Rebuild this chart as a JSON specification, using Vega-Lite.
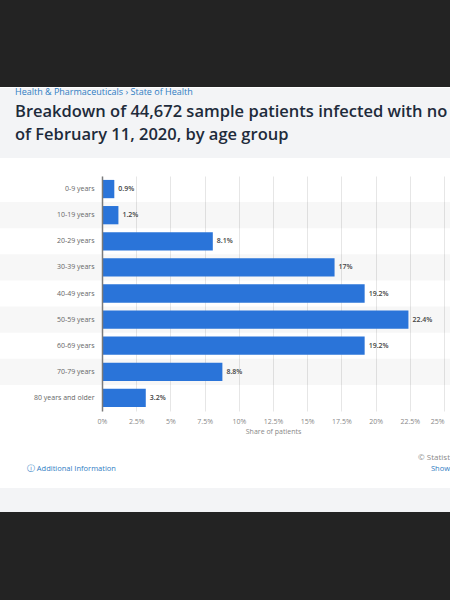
{
  "$schema": "https://vega.github.io/schema/vega-lite/v6.json",
  "background": "white",
  "padding": 0,
  "spacing": 0,
  "bounds": "full",
  "config": {"font": "Open Sans", "view": {"stroke": null}},
  "vconcat": [
    {
      "width": 450, "height": 87,
      "data": {"values": []}, "mark": "rect", "encoding": {},
      "view": {"fill": "#232323"}
    },
    {
      "width": 450, "height": 70,
      "data": {"values": []}, "mark": "rect", "encoding": {},
      "view": {"fill": "#f3f4f6"},
      "title": {
        "text": "Health & Pharmaceuticals › State of Health",
        "subtitle": ["Breakdown of 44,672 sample patients infected with no", "of February 11, 2020, by age group"],
        "anchor": "start", "frame": "group", "dx": 15, "offset": -55,
        "fontSize": 9, "fontWeight": "normal", "color": "#2f7dc3",
        "subtitleFontSize": 16.5, "subtitleFontWeight": 600, "subtitleColor": "#1e2b3b",
        "subtitlePadding": 7, "subtitleLineHeight": 23
      }
    },
    {
      "width": 450, "height": 18,
      "data": {"values": []}, "mark": "rect", "encoding": {}
    },
    {
      "width": 450, "height": 235,
      "data": {
        "values": [
          {"age": "0-9 years", "share": 0.009},
          {"age": "10-19 years", "share": 0.012},
          {"age": "20-29 years", "share": 0.081},
          {"age": "30-39 years", "share": 0.17},
          {"age": "40-49 years", "share": 0.192},
          {"age": "50-59 years", "share": 0.224},
          {"age": "60-69 years", "share": 0.192},
          {"age": "70-79 years", "share": 0.088},
          {"age": "80 years and older", "share": 0.032}
        ]
      },
      "encoding": {
        "y": {
          "field": "age", "type": "nominal", "title": null,
          "scale": {
            "domain": ["0-9 years", "10-19 years", "20-29 years", "30-39 years", "40-49 years", "50-59 years", "60-69 years", "70-79 years", "80 years and older"],
            "paddingInner": 0, "paddingOuter": 0
          },
          "axis": {
            "offset": -102, "labelPadding": 8, "ticks": false, "grid": false,
            "domainColor": "#7a7a7a", "domainWidth": 1.5,
            "labelFontSize": 7, "labelColor": "#666", "zindex": 1
          }
        }
      },
      "layer": [
        {
          "transform": [{"filter": "indexof(['10-19 years','30-39 years','50-59 years','70-79 years'], datum.age) >= 0"}],
          "mark": {"type": "rect", "color": "#000", "opacity": 0.03}
        },
        {
          "mark": {"type": "bar", "color": "#2a74d9", "height": {"band": 0.7}},
          "encoding": {
            "x": {
              "field": "share", "type": "quantitative", "title": "Share of patients",
              "scale": {"domain": [0, 0.25], "range": [102, 444], "nice": false},
              "axis": {
                "values": [0, 0.025, 0.05, 0.075, 0.1, 0.125, 0.15, 0.175, 0.2, 0.225, 0.25],
                "format": ".1~%", "domain": false, "ticks": false,
                "grid": true, "gridColor": "#e6e6e6",
                "labelFontSize": 7, "labelColor": "#888", "labelPadding": 6,
                "labelFlush": false, "labelOverlap": false,
                "labelAlign": {"condition": {"test": "datum.value >= 0.249", "value": "right"}, "value": "center"},
                "titleFontSize": 7, "titleColor": "#888", "titleFontWeight": "normal", "titlePadding": 3
              }
            }
          }
        },
        {
          "mark": {"type": "text", "align": "left", "baseline": "middle", "dx": 4, "fontSize": 7, "fontWeight": 600, "color": "#444"},
          "encoding": {
            "x": {"field": "share", "type": "quantitative"},
            "text": {"field": "share", "type": "quantitative", "format": ".1~%"}
          }
        }
      ]
    },
    {
      "width": 450, "height": 54,
      "data": {"values": []}, "mark": "rect", "encoding": {},
      "title": {
        "text": "© Statist",
        "subtitle": "ⓘ Additional Information\u2003\u2003\u2003\u2003\u2003\u2003\u2003\u2003\u2003\u2003\u2003\u2003\u2003\u2003\u2003\u2003\u2003\u2003\u2003\u2003\u2003\u2003\u2003\u2003\u2003\u2003\u2003\u2003\u2003\u2003\u2003\u2003\u2003\u2003\u2003\u2003\u2003\u2003\u2003\u2003\u2003\u2003Show",
        "anchor": "end", "frame": "group", "offset": -38,
        "fontSize": 8, "fontWeight": "normal", "color": "#8a8a8a",
        "subtitleFontSize": 7.5, "subtitleColor": "#2f7dc3", "subtitlePadding": 3
      }
    },
    {
      "width": 450, "height": 24,
      "data": {"values": []}, "mark": "rect", "encoding": {},
      "view": {"fill": "#f3f4f6"}
    },
    {
      "width": 450, "height": 89,
      "data": {"values": []}, "mark": "rect", "encoding": {},
      "view": {"fill": "#232323"}
    }
  ]
}
